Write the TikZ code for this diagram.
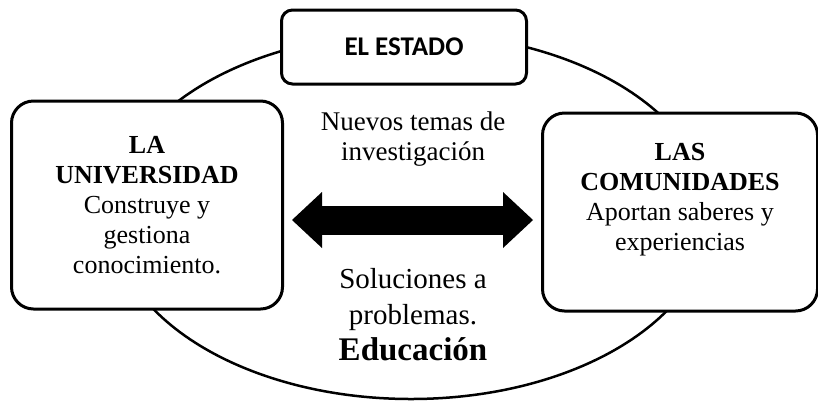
\documentclass[tikz,border=0pt]{standalone}
\usepackage{fontspec}
\setmainfont{Liberation Serif}
\newfontfamily\calibrifont{Carlito}
\usetikzlibrary{arrows.meta,positioning}

\begin{document}
\begin{tikzpicture}[x=1pt,y=-1pt,>={Triangle[length=30pt,width=56pt,line width=0pt]}]
		\tikzstyle{actor}=[rectangle, rounded corners=22pt, draw=black, line width=3pt, fill=white, align=center, font=\fontsize{26}{30}\selectfont]
		\tikzstyle{estado}=[rectangle, rounded corners=11pt, draw=black, line width=3pt, fill=white, minimum width=245pt, minimum height=74pt, font=\calibrifont\bfseries\fontsize{27}{30}\selectfont]
		\tikzstyle{flujo}=[align=center, inner sep=0pt]

		\useasboundingbox (0,0) rectangle (818,400);
		\draw[line width=2.5pt] (411,216) ellipse [x radius=299, y radius=183];

		\node [estado] (estado) at (404,47) {EL ESTADO};
		\node [actor, minimum width=271pt, minimum height=208pt] (uni) at (147,205)
			{\textbf{LA}\\\textbf{UNIVERSIDAD}\\Construye y\\gestiona\\conocimiento.};
		\node [actor, minimum width=275pt, minimum height=198pt] (com) at (680,212) {};
		\node [flujo, font=\fontsize{26}{30}\selectfont] (comtexto) at ([yshift=12pt]com.center)
			{\textbf{LAS}\\\textbf{COMUNIDADES}\\Aportan saberes y\\experiencias};

		\node [flujo, font=\fontsize{27}{30}\selectfont] (temas) at (413,139) {Nuevos temas de\\investigación};
		\node [flujo, font=\fontsize{29}{36}\selectfont] (soluciones) at (413,315)
			{Soluciones a\\problemas.\\{\bfseries\fontsize{33}{36}\selectfont Educación}};

		\coordinate (izq) at (292,220);
		\coordinate (der) at (533,220);
		\draw [<->, line width=29pt] (izq) -- (der);
	\end{tikzpicture}
\end{document}
